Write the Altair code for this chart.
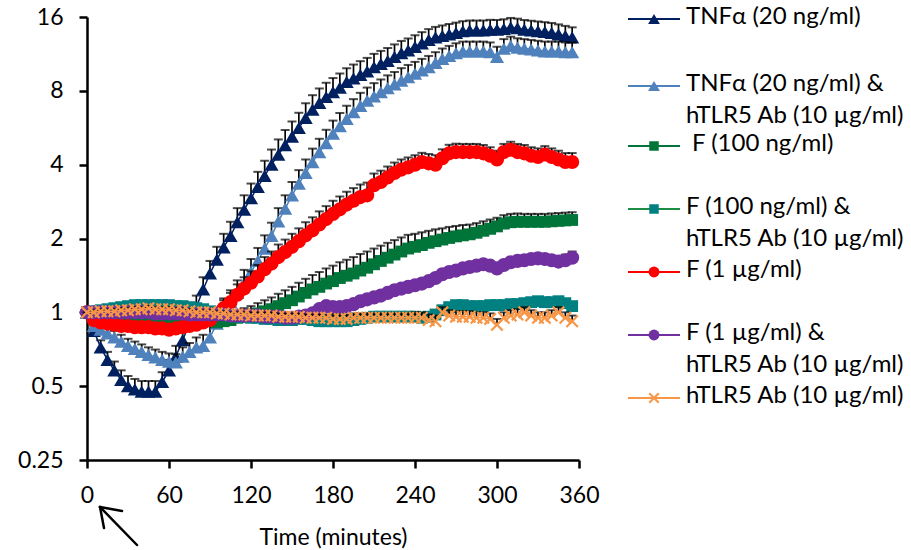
import altair as alt
import pandas as pd

# ---------------- data ----------------
TIME = list(range(0, 360, 5))  # minutes, 72 points

KEYS = ["tnf", "tnf_ab", "f100", "f100_ab", "f1", "f1_ab", "ab"]
LABELS = [
    "TNFα (20 ng/ml)",
    "TNFα (20 ng/ml) &\nhTLR5 Ab (10 µg/ml)",
    " F (100 ng/ml)",
    "F (100 ng/ml) &\nhTLR5 Ab (10 µg/ml)",
    "F (1 µg/ml)",
    "F (1 µg/ml) &\nhTLR5 Ab (10 µg/ml)",
    "hTLR5 Ab (10 µg/ml)",
]

TNF = [
    1.00, 0.84, 0.72, 0.64, 0.58, 0.53, 0.50, 0.485, 0.475, 0.475, 0.475, 0.52,
    0.58, 0.66, 0.77, 0.90, 1.05, 1.24, 1.44, 1.64, 1.84, 2.05, 2.33, 2.62,
    2.92, 3.25, 3.60, 4.00, 4.40, 4.80, 5.20, 5.65, 6.20, 6.70, 7.15, 7.55,
    7.90, 8.25, 8.70, 9.00, 9.30, 9.60, 10.0, 10.3, 10.6, 11.0, 11.4, 11.7,
    12.1, 12.5, 12.9, 13.2, 13.4, 13.6, 13.8, 14.0, 14.1, 14.1, 14.1, 14.2,
    14.2, 14.3, 14.5, 14.4, 14.2, 14.1, 14.0, 13.9, 13.8, 13.6, 13.4, 13.2,
]
TNF_AB = [
    1.00, 0.88, 0.85, 0.82, 0.79, 0.76, 0.73, 0.71, 0.69, 0.67, 0.655, 0.64,
    0.63, 0.625, 0.66, 0.69, 0.72, 0.73, 0.79, 0.90, 1.02, 1.10, 1.20, 1.32,
    1.46, 1.62, 1.82, 2.05, 2.35, 2.65, 3.00, 3.35, 3.70, 4.10, 4.50, 4.90,
    5.35, 5.75, 6.15, 6.55, 6.95, 7.30, 7.60, 7.90, 8.20, 8.50, 8.80, 9.10,
    9.40, 9.70, 10.0, 10.4, 10.8, 11.1, 11.4, 11.6, 11.6, 11.6, 11.6, 11.5,
    11.0, 11.9, 12.2, 12.0, 11.9, 11.8, 11.7, 11.6, 11.6, 11.6, 11.5, 11.5,
]
F100 = [
    1.00, 0.97, 0.96, 0.95, 0.95, 0.95, 0.95, 0.96, 0.96, 0.96, 0.96, 0.95,
    0.95, 0.94, 0.94, 0.93, 0.93, 0.92, 0.92, 0.91, 0.92, 0.93, 0.95, 0.96,
    0.97, 0.99, 1.01, 1.03, 1.06, 1.09, 1.12, 1.16, 1.20, 1.24, 1.27, 1.31,
    1.34, 1.38, 1.41, 1.44, 1.48, 1.52, 1.57, 1.62, 1.67, 1.72, 1.77, 1.82,
    1.85, 1.88, 1.92, 1.95, 1.98, 2.01, 2.04, 2.06, 2.08, 2.11, 2.15, 2.19,
    2.24, 2.30, 2.33, 2.34, 2.34, 2.34, 2.34, 2.34, 2.35, 2.36, 2.37, 2.38,
]
F100_AB = [
    1.00, 1.01, 1.02, 1.03, 1.04, 1.05, 1.06, 1.07, 1.07, 1.07, 1.07, 1.07,
    1.07, 1.06, 1.06, 1.05, 1.04, 1.03, 1.01, 1.00, 0.98, 0.97, 0.96, 0.96,
    0.95, 0.95, 0.94, 0.94, 0.93, 0.93, 0.93, 0.94, 0.94, 0.93, 0.92, 0.92,
    0.92, 0.92, 0.92, 0.93, 0.94, 0.95, 0.96, 0.96, 0.96, 0.96, 0.96, 0.96,
    0.96, 0.95, 0.96, 0.98, 1.02, 1.05, 1.07, 1.07, 1.06, 1.06, 1.06, 1.07,
    1.07, 1.07, 1.08, 1.08, 1.09, 1.10, 1.11, 1.10, 1.10, 1.11, 1.09, 1.06,
]
F1 = [
    1.00, 0.93, 0.91, 0.90, 0.89, 0.88, 0.88, 0.87, 0.87, 0.87, 0.86, 0.86,
    0.85, 0.86, 0.87, 0.88, 0.89, 0.91, 0.93, 0.98, 1.04, 1.10, 1.18, 1.25,
    1.32, 1.40, 1.50, 1.58, 1.68, 1.76, 1.85, 1.95, 2.06, 2.16, 2.28, 2.40,
    2.52, 2.63, 2.75, 2.85, 2.95, 3.00, 3.30, 3.40, 3.55, 3.70, 3.82, 3.90,
    4.00, 4.10, 4.05, 4.00, 4.25, 4.45, 4.50, 4.50, 4.50, 4.50, 4.45, 4.35,
    4.20, 4.50, 4.60, 4.50, 4.45, 4.35, 4.30, 4.40, 4.30, 4.20, 4.10, 4.10,
]
F1_AB = [
    1.00, 1.00, 1.00, 1.00, 1.00, 1.00, 1.00, 1.00, 1.00, 1.00, 0.99, 0.99,
    0.99, 0.99, 0.99, 0.98, 0.98, 0.98, 0.98, 0.98, 0.98, 0.97, 0.97, 0.97,
    0.97, 0.97, 0.96, 0.96, 0.96, 0.95, 0.95, 0.96, 0.97, 0.99, 1.03, 1.06,
    1.05, 1.05, 1.06, 1.08, 1.11, 1.13, 1.15, 1.17, 1.20, 1.23, 1.25, 1.27,
    1.29, 1.31, 1.34, 1.38, 1.43, 1.46, 1.48, 1.51, 1.53, 1.55, 1.57, 1.55,
    1.51, 1.56, 1.60, 1.62, 1.63, 1.65, 1.66, 1.65, 1.63, 1.61, 1.63, 1.67,
]
AB = [
    1.00, 1.00, 1.01, 1.01, 1.01, 1.02, 1.02, 1.03, 1.03, 1.04, 1.03, 1.03,
    1.03, 1.02, 1.02, 1.01, 1.00, 1.00, 1.00, 0.99, 0.99, 0.98, 0.98, 0.98,
    0.97, 0.97, 0.97, 0.97, 0.96, 0.96, 0.96, 0.96, 0.95, 0.95, 0.95, 0.95,
    0.94, 0.94, 0.94, 0.95, 0.95, 0.95, 0.95, 0.95, 0.95, 0.95, 0.95, 0.95,
    0.95, 0.95, 0.93, 0.92, 1.00, 0.97, 0.96, 0.96, 0.96, 0.95, 0.95, 0.94,
    0.89, 0.95, 0.97, 0.98, 1.00, 0.97, 0.95, 0.95, 0.97, 1.00, 0.95, 0.92,
]

# upper error (same units as the values)
TNF_ERR = [
    0.00, 0.04, 0.05, 0.05, 0.05, 0.05, 0.05, 0.05, 0.05, 0.05, 0.05, 0.05,
    0.06, 0.07, 0.08, 0.10, 0.12, 0.15, 0.18, 0.21, 0.25, 0.29, 0.33, 0.38,
    0.43, 0.49, 0.55, 0.61, 0.67, 0.74, 0.80, 0.86, 0.92, 0.98, 1.03, 1.08,
    1.12, 1.16, 1.20, 1.24, 1.27, 1.30, 1.32, 1.34, 1.36, 1.37, 1.38, 1.38,
    1.38, 1.38, 1.38, 1.38, 1.38, 1.38, 1.38, 1.38, 1.38, 1.38, 1.38, 1.38,
    1.36, 1.36, 1.36, 1.35, 1.35, 1.35, 1.34, 1.34, 1.33, 1.33, 1.32, 1.32,
]
TNF_AB_ERR = [
    0.00, 0.04, 0.05, 0.05, 0.05, 0.05, 0.05, 0.05, 0.05, 0.05, 0.05, 0.05,
    0.05, 0.05, 0.06, 0.06, 0.07, 0.08, 0.09, 0.10, 0.12, 0.13, 0.15, 0.17,
    0.19, 0.21, 0.24, 0.27, 0.31, 0.35, 0.40, 0.45, 0.50, 0.55, 0.60, 0.65,
    0.70, 0.75, 0.80, 0.85, 0.90, 0.95, 1.00, 1.00, 1.05, 1.05, 1.10, 1.10,
    1.10, 1.10, 1.10, 1.10, 1.10, 1.10, 1.10, 1.10, 1.10, 1.10, 1.10, 1.10,
    1.10, 1.10, 1.10, 1.10, 1.10, 1.10, 1.10, 1.10, 1.10, 1.10, 1.10, 1.10,
]
F100_ERR = [
    0.00, 0.02, 0.02, 0.02, 0.02, 0.02, 0.02, 0.02, 0.02, 0.02, 0.02, 0.02,
    0.02, 0.02, 0.02, 0.02, 0.02, 0.02, 0.03, 0.04, 0.05, 0.06, 0.07, 0.08,
    0.09, 0.10, 0.11, 0.12, 0.13, 0.14, 0.15, 0.16, 0.17, 0.18, 0.19, 0.20,
    0.21, 0.22, 0.23, 0.24, 0.25, 0.25, 0.25, 0.25, 0.25, 0.25, 0.25, 0.25,
    0.24, 0.24, 0.23, 0.23, 0.22, 0.22, 0.21, 0.21, 0.20, 0.20, 0.20, 0.20,
    0.19, 0.19, 0.19, 0.19, 0.18, 0.18, 0.18, 0.18, 0.18, 0.18, 0.18, 0.18,
]
F100_AB_ERR = [
    0.00, 0.02, 0.02, 0.02, 0.02, 0.02, 0.02, 0.02, 0.02, 0.02, 0.02, 0.02,
    0.02, 0.02, 0.02, 0.02, 0.02, 0.02, 0.02, 0.02, 0.02, 0.02, 0.02, 0.02,
    0.03, 0.03, 0.03, 0.03, 0.03, 0.03, 0.03, 0.03, 0.03, 0.03, 0.03, 0.03,
    0.04, 0.04, 0.04, 0.04, 0.04, 0.04, 0.04, 0.04, 0.04, 0.04, 0.04, 0.04,
    0.04, 0.04, 0.04, 0.04, 0.04, 0.04, 0.04, 0.04, 0.04, 0.04, 0.04, 0.04,
    0.04, 0.04, 0.04, 0.04, 0.04, 0.04, 0.04, 0.04, 0.04, 0.04, 0.04, 0.04,
]
F1_ERR = [
    0.00, 0.02, 0.02, 0.02, 0.02, 0.02, 0.02, 0.02, 0.02, 0.02, 0.02, 0.02,
    0.02, 0.02, 0.02, 0.02, 0.02, 0.02, 0.04, 0.06, 0.08, 0.10, 0.12, 0.14,
    0.15, 0.16, 0.18, 0.19, 0.21, 0.22, 0.24, 0.25, 0.27, 0.28, 0.30, 0.31,
    0.33, 0.34, 0.35, 0.36, 0.37, 0.38, 0.38, 0.38, 0.38, 0.38, 0.38, 0.38,
    0.37, 0.37, 0.37, 0.37, 0.37, 0.37, 0.37, 0.36, 0.36, 0.36, 0.36, 0.36,
    0.36, 0.36, 0.36, 0.36, 0.36, 0.36, 0.36, 0.36, 0.36, 0.36, 0.36, 0.36,
]
F1_AB_ERR = [
    0.00, 0.02, 0.02, 0.02, 0.02, 0.02, 0.02, 0.02, 0.02, 0.02, 0.02, 0.02,
    0.02, 0.02, 0.02, 0.02, 0.02, 0.02, 0.02, 0.02, 0.02, 0.02, 0.02, 0.02,
    0.03, 0.03, 0.03, 0.03, 0.03, 0.03, 0.03, 0.03, 0.03, 0.03, 0.03, 0.03,
    0.04, 0.04, 0.04, 0.04, 0.04, 0.04, 0.04, 0.04, 0.04, 0.04, 0.04, 0.04,
    0.05, 0.05, 0.05, 0.05, 0.05, 0.05, 0.05, 0.05, 0.05, 0.05, 0.05, 0.05,
    0.06, 0.06, 0.06, 0.06, 0.06, 0.06, 0.07, 0.07, 0.07, 0.08, 0.09, 0.10,
]
AB_ERR = [
    0.00, 0.02, 0.02, 0.02, 0.02, 0.02, 0.02, 0.02, 0.02, 0.02, 0.02, 0.02,
    0.02, 0.02, 0.02, 0.02, 0.02, 0.02, 0.02, 0.02, 0.02, 0.02, 0.02, 0.02,
    0.03, 0.03, 0.03, 0.03, 0.03, 0.03, 0.03, 0.03, 0.03, 0.03, 0.03, 0.03,
    0.04, 0.04, 0.04, 0.04, 0.04, 0.04, 0.04, 0.04, 0.04, 0.04, 0.04, 0.04,
    0.05, 0.05, 0.05, 0.05, 0.05, 0.05, 0.05, 0.05, 0.05, 0.05, 0.05, 0.05,
    0.05, 0.05, 0.05, 0.05, 0.05, 0.05, 0.05, 0.05, 0.05, 0.05, 0.05, 0.05,
]

VALUES = [TNF, TNF_AB, F100, F100_AB, F1, F1_AB, AB]
ERRORS = [TNF_ERR, TNF_AB_ERR, F100_ERR, F100_AB_ERR, F1_ERR, F1_AB_ERR, AB_ERR]

X_TICKS = [0, 60, 120, 180, 240, 300, 360]
Y_TICKS = [0.25, 0.5, 1, 2, 4, 8, 16]

# ---------------- styles / layout ----------------
FONT = "Lato"
FS = 23
LEG_FS = 24
PLOT_W, PLOT_H = 492, 443
PAD = {"left": 87, "top": 17, "right": 332, "bottom": 90}

X_SHAPE = "M-1,-1L1,1M1,-1L-1,1"
STYLES = {
    "tnf":     dict(color="#002060", line="#002060", shape="triangle-up", size=200, filled=True, lsize=140),
    "tnf_ab":  dict(color="#4F81BD", line="#4F81BD", shape="triangle-up", size=200, filled=True, lsize=140),
    "f100":    dict(color="#00753A", line="#00753A", shape="square", size=140, filled=True, lsize=90),
    "f100_ab": dict(color="#008080", line="#1E8C45", shape="square", size=140, filled=True, lsize=90),
    "f1":      dict(color="#FF0000", line="#FF0000", shape="circle", size=200, filled=True, lsize=120),
    "f1_ab":   dict(color="#7030A0", line="#7030A0", shape="circle", size=200, filled=True, lsize=120),
    "ab":      dict(color="#F79646", line="#F79646", shape=X_SHAPE, size=130, filled=False, lsize=90),
}
# legend row centres (pixels from top of plot area)
LEGEND_Y = [2, 69, 129, 192, 255, 318, 381]
LEG_X0, LEG_X1, LEG_TX = 628 - 87, 680 - 87, 686 - 87
SPACE_W = 6  # width of a leading space in the legend font

rows = []
for k, vals, errs in zip(KEYS, VALUES, ERRORS):
    for t, v, e in zip(TIME, vals, errs):
        rows.append({"k": k, "t": t, "v": v, "up": v + e})
df = pd.DataFrame(rows)

x_scale = alt.Scale(domain=[0, 360], nice=False, zero=False)
y_scale = alt.Scale(type="log", base=2, domain=[0.25, 16], nice=False)

X = alt.X("t:Q", scale=x_scale,
          axis=alt.Axis(values=X_TICKS, title="Time (minutes)", labelFlush=False,
                        labelPadding=16, titlePadding=19))
Y = alt.Y("v:Q", scale=y_scale,
          axis=alt.Axis(values=Y_TICKS, format="~g", title=None, labelPadding=16))

layers = []
for k in KEYS:
    st = STYLES[k]
    base = alt.Chart(df).transform_filter(alt.datum.k == k)
    rule = base.mark_rule(color="black", strokeWidth=1.7).encode(x=X, y=Y, y2="up:Q")
    cap = base.mark_tick(color="black", thickness=2, size=9, orient="horizontal").encode(
        x=X, y=alt.Y("up:Q", scale=y_scale))
    line = base.mark_line(color=st["line"], strokeWidth=1.5).encode(x=X, y=Y)
    pts = base.mark_point(shape=st["shape"], size=st["size"], filled=st["filled"],
                          color=st["color"], opacity=1,
                          strokeWidth=2.2 if not st["filled"] else 0).encode(x=X, y=Y)
    layers += [rule, cap, line, pts]

# legend
for i, (k, lab) in enumerate(zip(KEYS, LABELS)):
    st = STYLES[k]
    ly = LEGEND_Y[i]
    lead = len(lab) - len(lab.lstrip(" "))
    one = alt.Chart(pd.DataFrame({"label": [lab.lstrip(" ")]}))
    lline = one.mark_rule(color=st["line"], strokeWidth=2).encode(
        x=alt.value(LEG_X0), x2=alt.value(LEG_X1), y=alt.value(ly))
    lpt = one.mark_point(shape=st["shape"], size=st["lsize"], filled=st["filled"],
                         color=st["color"], opacity=1,
                         strokeWidth=2 if not st["filled"] else 0).encode(
        x=alt.value((LEG_X0 + LEG_X1) / 2), y=alt.value(ly))
    ltxt = one.mark_text(align="left", baseline="top", font=FONT, fontSize=LEG_FS,
                         lineBreak="\n", lineHeight=32, color="black").encode(
        x=alt.value(LEG_TX + lead * SPACE_W), y=alt.value(ly - 14), text="label:N")
    layers += [lline, lpt, ltxt]

# arrow marking the time of addition
arrow_src = alt.Chart(pd.DataFrame({"a": [0]}))
ARROW = [((50, 528), (13, 490)), ((13, 490), (35, 494)), ((13, 490), (17, 511))]
for (x1, y1), (x2, y2) in ARROW:
    layers.append(arrow_src.mark_rule(color="black", strokeWidth=2.5, strokeCap="round").encode(
        x=alt.value(x1), y=alt.value(y1), x2=alt.value(x2), y2=alt.value(y2)))

chart = alt.layer(*layers).properties(
    width=PLOT_W, height=PLOT_H,
    autosize=alt.AutoSizeParams(type="none"),
    padding=PAD,
).configure_view(stroke=None).configure_axis(
    grid=False,
    domainColor="black", domainWidth=2.5,
    tickColor="black", tickWidth=2.5, tickSize=8,
    labelColor="black", labelFont=FONT, labelFontSize=FS,
    titleColor="black", titleFont=FONT, titleFontSize=FS, titleFontWeight="normal",
)

chart.save("out.html", embed_options={"renderer": "svg", "actions": False})
